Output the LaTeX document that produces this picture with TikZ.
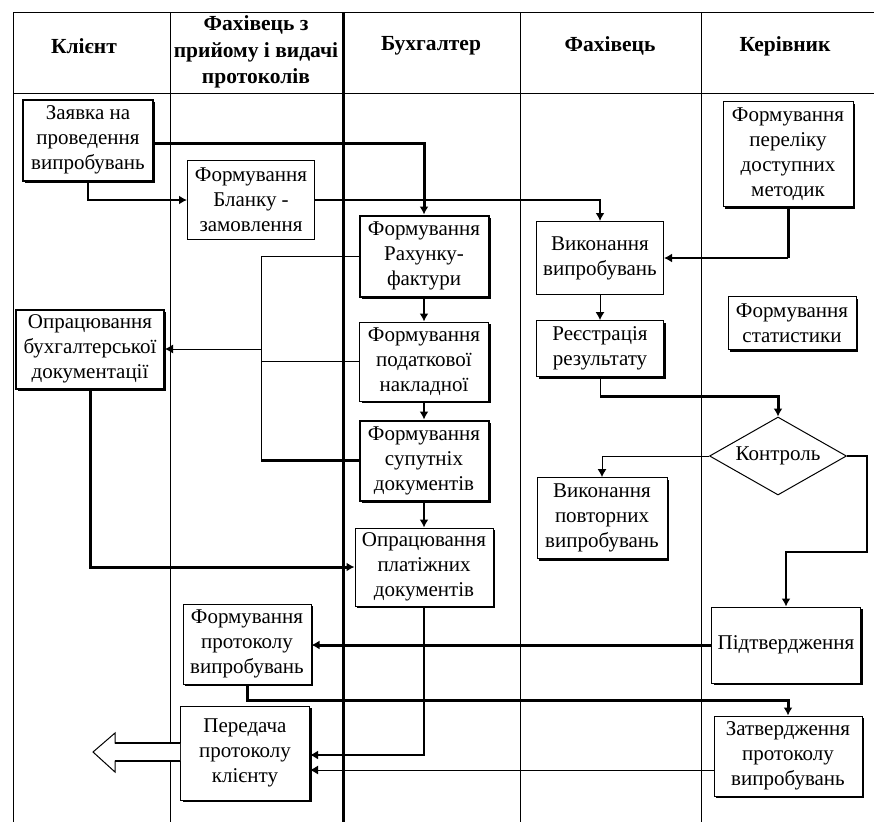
\documentclass[tikz,border=0pt]{standalone}
\usepackage{fontspec}
\setmainfont{Liberation Serif}
\usepackage{tikz}
\usetikzlibrary{shapes.geometric}
\usetikzlibrary{positioning}
\usetikzlibrary{shadows}
\usetikzlibrary{arrows.meta}
\tikzset{every picture/.style={line width=1pt}}
\tikzset{box/.style={draw,fill=white,align=center,inner sep=1pt,font=\fontsize{21}{25}\selectfont},
  shad/.style={drop shadow={shadow xshift=2pt,shadow yshift=-2pt,fill=black,opacity=1}},
  hdr/.style={align=center,font=\bfseries\fontsize{21.5}{26.5}\selectfont},
  midln/.style={line width=2pt},
  fatln/.style={line width=3pt}}

\begin{document}
\begin{tikzpicture}[x=1pt,y=-1pt,>={Latex[length=8pt,width=9pt]}]
\useasboundingbox (0,0) rectangle (874,822);

% lanes
\draw (13,12) -- (874,12);
\draw (13,93) -- (874,93);
\foreach \x in {13,170,520,701} \draw (\x,12) -- (\x,822);
\draw[fatln] (343,12) -- (343,822);

\node (hklient) at (84,46) [hdr] {Клієнт};
\node (hpryiom) at (256,52) [hdr] {Фахівець з\\прийому і видачі\\протоколів};
\node (hbukh) at (431,46) [hdr] {Бухгалтер};
\node (hfakh) at (610,46) [hdr] {Фахівець};
\node (hkerivn) at (785,46) [hdr] {Керівник};

% client / reception
\node (zayavka) at (88,140) [box,shad,line width=2pt,minimum width=130pt,minimum height=81pt] {Заявка на\\проведення\\випробувань};
\node (blank) at (251,200) [box,minimum width=127pt,minimum height=79pt] {Формування\\Бланку -\\замовлення};
\node (bukh) at (90,349) [box,shad,line width=2pt,minimum width=148pt,minimum height=79pt] {Опрацювання\\бухгалтерської\\документації};
\node (protokol) at (247,644) [box,shad,minimum width=128pt,minimum height=80pt] {Формування\\протоколу\\випробувань};
\node (peredacha) at (245,753) [box,shad,minimum width=129pt,minimum height=94pt] {Передача\\протоколу\\клієнту};

% accountant
\node (rakhunok) at (424,256) [box,shad,line width=2pt,minimum width=129pt,minimum height=81pt] {Формування\\Рахунку-\\фактури};
\node (podatk) [box,shad,below=24pt of rakhunok,minimum width=129pt,minimum height=79pt] {Формування\\податкової\\накладної};
\node (suput) [box,shad,line width=2pt,below=18pt of podatk,minimum width=129pt,minimum height=80pt] {Формування\\супутніх\\документів};
\node (platizh) [box,shad,below=26pt of suput,minimum width=138pt,minimum height=78pt] {Опрацювання\\платіжних\\документів};

% specialist
\node (vykon) at (600,258) [box,minimum width=127pt,minimum height=73pt] {Виконання\\випробувань};
\node (reiestr) [box,shad,below=25pt of vykon,minimum width=127pt,minimum height=56pt] {Реєстрація\\результату};
\node (povtor) at (602,518) [box,shad,minimum width=130pt,minimum height=81pt] {Виконання\\повторних\\випробувань};

% manager
\node (perelik) at (788,154) [box,shad,minimum width=130pt,minimum height=105pt] {Формування\\переліку\\доступних\\методик};
\node (statyst) at (792,323) [box,shad,minimum width=128pt,minimum height=53pt] {Формування\\статистики};
\node (kontrol) at (778,456) [diamond,draw,fill=white,aspect=1.75,inner sep=0pt,minimum width=137pt,minimum height=78pt,font=\fontsize{21}{25}\selectfont] {Контроль};
\node (pidtv) at (786,645) [box,shad,minimum width=149pt,minimum height=76pt] {Підтвердження};
\node (zatv) at (788,756) [box,shad,minimum width=148pt,minimum height=80pt] {Затвердження\\протоколу\\випробувань};

% connectors
\draw[->,fatln] ([yshift=-3pt]zayavka.east) -| (rakhunok.north);
\draw[->,midln] (zayavka.south) |- (blank.west);
\draw[->,midln] (blank.east) -| (vykon.north);
\draw[fatln] (perelik.south) -- (perelik.south |- vykon.east);
\draw[->,midln] (perelik.south |- vykon.east) -- (vykon.east);
\draw[->] (vykon.south) -- (reiestr.north);
\draw (reiestr.south) -- ++(0,19) coordinate (rk);
\draw[->,fatln] (rk) -| (kontrol.north);
\draw[->] (kontrol.west) -| (povtor.north);
\draw[->,midln] (kontrol.east) -- ++(20,0) |- (pidtv.north |- 0,552) -- (pidtv.north);

\draw[->,midln] (rakhunok.south) -- (podatk.north);
\draw[->,midln] (podatk.south) -- (suput.north);
\draw[->,midln] (suput.south) -- (platizh.north);

% bus to the client
\coordinate (bus) at (261,349);
\draw (rakhunok.west) -| (suput.west -| bus);
\draw (podatk.west) -- (podatk.west -| bus);
\draw[fatln] (suput.west) -- (suput.west -| bus);
\draw[->] (bus) -- (bukh.east);

\draw[->,fatln] (bukh.south) |- (platizh.west);
\draw[->,midln] (platizh.south) |- ([yshift=-2pt]peredacha.east);
\draw[->,fatln] (pidtv.west) -- (pidtv.west -| protokol.east);
\draw[->,fatln] (protokol.south) -- ++(0,16) -| (zatv.north);
\draw[->] ([yshift=-14pt]zatv.west) -- ([yshift=-14pt]zatv.west -| peredacha.east);

% outgoing arrow
\filldraw[fill=white] (peredacha.west |- 0,743) -- (115,743) -- (115,733) -- (93,752) -- (115,772) -- (115,761) -- (peredacha.west |- 0,761);
\draw[midln] (peredacha.west |- 0,743) -- (115,743);
\draw[midln] (peredacha.west |- 0,761) -- (115,761);
\end{tikzpicture}
\end{document}
